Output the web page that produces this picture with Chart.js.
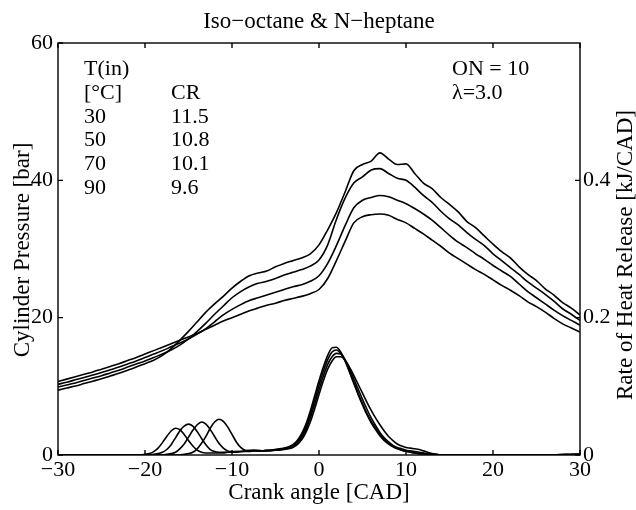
<!DOCTYPE html>
<html>
<head>
<meta charset="utf-8">
<script src="https://cdn.jsdelivr.net/npm/chart.js@4"></script>
<style>html,body{margin:0;background:#fff}</style>
</head>
<body>
<canvas id="c" width="636" height="510"></canvas>
<script>
// crank angle grid for the pressure traces [CAD]
const crankAngle = [
  -30,-29,-28,-27,-26,-25,-24,-23,-22,-21,
  -20,-19,-18,-17,-16,-15,-14,-13,-12,-11,
  -10,-9,-8,-7,-6,-5,-4,-3,-2,-1,
  0,1,2,3,4,5,6,7,8,9,
  10,11,12,13,14,15,16,17,18,19,
  20,21,22,23,24,25,26,27,28,29,30
];
// cylinder pressure [bar], one trace per intake temperature
const pressureA = [
  9.45,9.75,10.05,10.4,10.75,11.1,11.5,11.9,12.35,12.8,
  13.3,13.8,14.5,15.5,16.7,18.0,19.4,20.8,22.0,23.1,
  24.3,25.3,26.1,26.5,26.8,27.4,27.9,28.3,28.7,29.3,
  30.6,32.8,35.3,38.3,41.4,42.3,42.8,44.0,43.1,42.3,
  42.4,41.0,39.6,38.8,37.5,36.5,35.4,34.0,33.1,31.9,
  30.7,29.6,28.7,27.4,26.3,25.4,24.2,23.3,22.2,21.4,20.4
];
const pressureB = [
  9.9,10.2,10.5,10.85,11.2,11.55,11.95,12.35,12.8,13.25,
  13.7,14.2,14.7,15.3,16.0,16.9,18.0,19.2,20.5,21.7,
  22.9,23.8,24.5,25.0,25.3,25.7,26.2,26.6,27.0,27.5,
  28.4,30.6,34.3,37.4,39.6,40.5,41.5,41.7,41.0,40.3,
  40.0,39.0,37.8,36.8,35.5,34.4,33.5,32.4,31.4,30.5,
  29.3,28.3,27.3,26.3,25.2,24.3,23.4,22.4,21.3,20.5,19.6
];
const pressureC = [
  10.3,10.6,10.95,11.3,11.65,12.0,12.4,12.8,13.25,13.7,
  14.2,14.7,15.2,15.75,16.3,16.9,17.6,18.4,19.4,20.4,
  21.2,21.9,22.5,22.9,23.3,23.7,24.1,24.5,24.8,25.3,
  26.1,27.9,30.5,33.4,36.0,37.1,37.5,37.8,37.6,37.1,
  36.6,35.9,35.1,34.2,33.1,32.0,31.0,30.2,29.3,28.5,
  27.6,26.8,26.0,24.9,23.8,22.9,22.0,21.1,20.3,19.6,18.9
];
const pressureD = [
  10.7,11.05,11.4,11.75,12.1,12.5,12.9,13.3,13.75,14.2,
  14.7,15.2,15.7,16.2,16.7,17.2,17.7,18.3,18.9,19.5,
  20.0,20.5,21.0,21.4,21.8,22.1,22.5,22.8,23.1,23.5,
  24.1,25.7,28.3,31.1,33.8,34.7,35.0,35.1,34.9,34.3,
  33.8,33.0,32.2,31.3,30.4,29.4,28.6,27.8,27.0,26.3,
  25.5,24.7,24.0,23.2,22.3,21.6,20.8,19.9,19.1,18.5,17.9
];

// crank angle grid for the heat release traces [CAD]
const hrrAngle = [
  -30,-25,
  -21,-20.5,-20,-19.5,-19,-18.5,-18,-17.5,-17,-16.5,
  -16,-15.5,-15,-14.5,-14,-13.5,-13,-12.5,-12,-11.5,
  -11,-10.5,-10,-9.5,-9,-8.5,-8,-7.5,-7,-6.5,
  -6,-5.5,-5,-4.5,-4,-3.5,-3,-2.5,-2,-1.5,
  -1,-0.5,0,0.5,1,1.5,2,2.5,3,3.5,
  4,4.5,5,5.5,6,6.5,7,7.5,8,8.5,
  9,9.5,10,10.5,11,11.5,12,12.5,13,13.5,
  14,
  16,20,25,30
];
// rate of heat release [kJ/CAD]
const hrrA = [
  0,0,
  0,0,0.001,0.002,0.005,0.010,0.018,0.027,0.035,0.039,
  0.037,0.030,0.021,0.013,0.007,0.004,0.003,0.003,0.003,0.003,
  0.003,0.004,0.004,0.004,0.005,0.005,0.005,0.006,0.006,0.006,
  0.007,0.007,0.008,0.009,0.010,0.012,0.015,0.021,0.031,0.045,
  0.064,0.086,0.108,0.128,0.145,0.156,0.157,0.150,0.137,0.121,
  0.104,0.088,0.073,0.059,0.047,0.037,0.028,0.021,0.016,0.012,
  0.009,0.007,0.005,0.004,0.003,0.002,0.002,0.001,0.001,0,
  0,
  0,0,0,0.001
];
const hrrB = [
  0,0,
  0,0,0,0,0.001,0.002,0.004,0.008,0.015,0.025,
  0.035,0.042,0.045,0.042,0.034,0.024,0.015,0.008,0.005,0.004,
  0.004,0.004,0.004,0.005,0.005,0.006,0.006,0.006,0.006,0.006,
  0.007,0.007,0.008,0.008,0.009,0.011,0.014,0.019,0.028,0.041,
  0.059,0.080,0.102,0.122,0.139,0.150,0.153,0.148,0.137,0.122,
  0.106,0.090,0.075,0.061,0.049,0.039,0.030,0.023,0.017,0.013,
  0.010,0.007,0.006,0.004,0.003,0.002,0.002,0.001,0.001,0,
  0,
  0,0,0,0.001
];
const hrrC = [
  0,0,
  0,0,0,0,0,0,0,0.001,0.002,0.004,
  0.009,0.016,0.026,0.036,0.044,0.048,0.045,0.037,0.027,0.017,
  0.010,0.006,0.005,0.005,0.005,0.006,0.007,0.007,0.006,0.006,
  0.006,0.007,0.007,0.008,0.009,0.010,0.013,0.017,0.025,0.037,
  0.054,0.074,0.095,0.115,0.132,0.143,0.148,0.147,0.139,0.126,
  0.111,0.096,0.081,0.067,0.054,0.043,0.033,0.025,0.019,0.014,
  0.011,0.009,0.007,0.006,0.005,0.004,0.003,0.002,0.001,0.001,
  0,
  0,0,0,0.001
];
const hrrD = [
  0,0,
  0,0,0,0,0,0,0,0,0,0,
  0,0.001,0.002,0.004,0.009,0.017,0.027,0.039,0.048,0.052,
  0.049,0.041,0.030,0.019,0.011,0.007,0.006,0.007,0.007,0.006,
  0.006,0.006,0.007,0.007,0.008,0.009,0.011,0.015,0.022,0.033,
  0.048,0.067,0.088,0.108,0.125,0.137,0.143,0.143,0.138,0.128,
  0.116,0.103,0.090,0.077,0.065,0.054,0.044,0.035,0.027,0.021,
  0.016,0.013,0.011,0.010,0.009,0.008,0.006,0.004,0.002,0.001,
  0,
  0,0,0,0.001
];

const xTicks   = [-30,-20,-10,0,10,20,30];
const pTicks   = [0,20,40,60];
const hrrTicks = [0,0.2,0.4];
const tempsIn  = ['30','50','70','90'];
const ratios   = ['11.5','10.8','10.1','9.6'];

const SERIF = "'Liberation Serif','Times New Roman',serif";
const tickFont = { family: SERIF, size: 22 };
const minus = v => String(v).replace('-', '\u2212');

function line(xs, ys, axis) {
  return {
    data: xs.map((x, i) => ({ x, y: ys[i] })),
    yAxisID: axis,
    borderColor: '#000', borderWidth: 1.6,
    pointRadius: 0, fill: false,
    cubicInterpolationMode: 'monotone'
  };
}

// box, inward ticks and all the free text
const frame = {
  id: 'frame',
  afterDraw(chart) {
    const { ctx, chartArea: a, scales } = chart;
    const t = 5;
    ctx.save();
    ctx.strokeStyle = '#000';
    ctx.lineWidth = 1.4;
    ctx.strokeRect(a.left, a.top, a.right - a.left, a.bottom - a.top);
    ctx.beginPath();
    xTicks.forEach(v => {
      const px = scales.x.getPixelForValue(v);
      ctx.moveTo(px, a.bottom); ctx.lineTo(px, a.bottom - t);
      ctx.moveTo(px, a.top);    ctx.lineTo(px, a.top + t);
    });
    pTicks.forEach(v => {
      const py = scales.y.getPixelForValue(v);
      ctx.moveTo(a.left, py); ctx.lineTo(a.left + t, py);
    });
    hrrTicks.forEach(v => {
      const py = scales.y1.getPixelForValue(v);
      ctx.moveTo(a.right, py); ctx.lineTo(a.right - t, py);
    });
    ctx.stroke();

    ctx.fillStyle = '#000';
    ctx.textBaseline = 'alphabetic';
    ctx.textAlign = 'center';
    ctx.font = '23px ' + SERIF;
    ctx.fillText('Iso\u2212octane & N\u2212heptane', (a.left + a.right) / 2, 28);
    ctx.fillText('Crank angle [CAD]', (a.left + a.right) / 2, 499);

    ctx.save();
    ctx.translate(29, 250);
    ctx.rotate(-Math.PI / 2);
    ctx.fillText('Cylinder Pressure [bar]', 0, 0);
    ctx.restore();
    ctx.save();
    ctx.translate(632, 255);
    ctx.rotate(-Math.PI / 2);
    ctx.fillText('Rate of Heat Release [kJ/CAD]', 0, 0);
    ctx.restore();

    ctx.textAlign = 'left';
    ctx.font = '22px ' + SERIF;
    const row = i => a.top + 32 + i * 23.8;
    ctx.fillText('T(in)', 84, row(0));
    ctx.fillText('[\u00B0C]', 84, row(1));
    ctx.fillText('CR', 171, row(1));
    tempsIn.forEach((s, i) => {
      ctx.fillText(s, 84, row(i + 2));
      ctx.fillText(ratios[i], 171, row(i + 2));
    });
    ctx.fillText('ON = 10', 452, row(0));
    ctx.fillText('\u03BB=3.0', 452, row(1));
    ctx.restore();
  }
};

new Chart(document.getElementById('c'), {
  type: 'line',
  data: {
    datasets: [
      line(crankAngle, pressureA, 'y'),
      line(crankAngle, pressureB, 'y'),
      line(crankAngle, pressureC, 'y'),
      line(crankAngle, pressureD, 'y'),
      line(hrrAngle, hrrA, 'y1'),
      line(hrrAngle, hrrB, 'y1'),
      line(hrrAngle, hrrC, 'y1'),
      line(hrrAngle, hrrD, 'y1')
    ]
  },
  options: {
    responsive: false, animation: false,
    layout: { padding: { top: 43 } },
    plugins: { legend: { display: false }, tooltip: { enabled: false }, title: { display: false } },
    scales: {
      x: {
        type: 'linear', min: -30, max: 30,
        afterBuildTicks: s => { s.ticks = xTicks.map(v => ({ value: v })); },
        afterFit: s => { s.height = 55; },
        grid: { display: false, drawTicks: false }, border: { display: false },
        ticks: { font: tickFont, color: '#000', padding: 2, maxRotation: 0, autoSkip: false, callback: minus }
      },
      y: {
        position: 'left', min: 0, max: 60,
        afterBuildTicks: s => { s.ticks = pTicks.map(v => ({ value: v })); },
        afterFit: s => { s.width = 58; },
        grid: { display: false, drawTicks: false }, border: { display: false },
        ticks: { font: tickFont, color: '#000', padding: 5, callback: v => String(v) }
      },
      y1: {
        position: 'right', min: 0, max: 0.6,
        afterBuildTicks: s => { s.ticks = hrrTicks.map(v => ({ value: v })); },
        afterFit: s => { s.width = 56; },
        grid: { display: false, drawTicks: false }, border: { display: false },
        ticks: { font: tickFont, color: '#000', padding: 3, callback: v => String(v) }
      }
    }
  },
  plugins: [frame]
});
</script>
</body>
</html>
